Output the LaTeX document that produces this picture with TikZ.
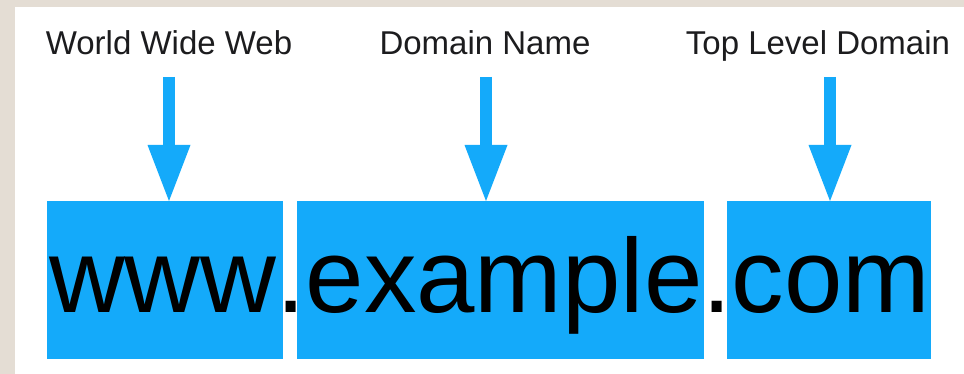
\documentclass[tikz,border=0pt]{standalone}
\usepackage{fontspec}
\setmainfont{Liberation Sans}
\usetikzlibrary{arrows.meta,positioning}

\definecolor{urlblue}{RGB}{20,170,250}
\definecolor{pagebeige}{RGB}{228,221,212}
\definecolor{labelgray}{RGB}{28,28,30}

\begin{document}
\begin{tikzpicture}[x=1pt, y=1pt,
    part/.style={fill=urlblue, draw=none, inner sep=0pt, outer sep=0pt, anchor=south west},
    urltext/.style={inner sep=0pt, outer sep=0pt, anchor=base west, font=\fontsize{105}{105}\selectfont},
    partlabel/.style={anchor=base, inner sep=0pt, text=labelgray, font=\fontsize{33}{33}\selectfont},
    pointer/.style={urlblue, line width=12pt, -{Triangle[width=43pt, length=56pt, line width=0pt]}}]
    % Page and frame
    \fill[pagebeige] (0,0) rectangle (964,374);
    \fill[white] (15,0) rectangle (964,367);
    \useasboundingbox (0,0) rectangle (964,374);

    % Draw the highlighted parts of the address
    \foreach \nm/\xa/\bw in {www/47/236, example/297/407, com/727/204}
        \node[part, minimum width=\bw, minimum height=158] (box\nm) at (\xa,15) {};

    % The address itself, set piece by piece
    \node[urltext] (txtwww) at (49,61) {www};
    \node[urltext] (dotone) at (txtwww.base east) {.};
    \node[urltext] (txtexample) at (dotone.base east) {example};
    \node[urltext] (dottwo) at (txtexample.base east) {.};
    \node[urltext] (txtcom) at (dottwo.base east) {com};

    % Labels
    \foreach \nm/\xx/\txt in {www/169/World Wide Web, example/485/Domain Name, com/818/Top Level Domain}
        \node[partlabel] (lbl\nm) at (\xx,319) {\txt};

    % Arrows from the labels down to the parts
    \foreach \nm/\xx in {www/169, example/486, com/830} {
        \coordinate (top\nm) at (\xx,297);
        \draw[pointer] (top\nm) -- (top\nm |- box\nm.north);
    }
\end{tikzpicture}
\end{document}
